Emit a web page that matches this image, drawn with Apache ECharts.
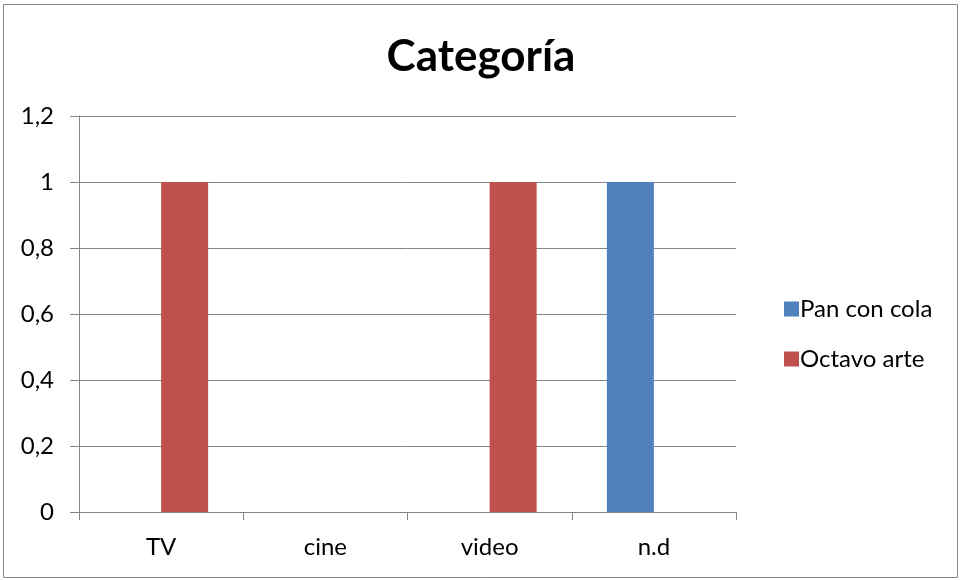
<!DOCTYPE html>
<html>
<head>
<meta charset="utf-8">
<script src="https://cdn.jsdelivr.net/npm/echarts@6/dist/echarts.min.js"></script>
<style>
  html, body { margin: 0; padding: 0; background: #fff; }
  #chart { width: 962px; height: 580px; }
</style>
</head>
<body>
<div id="chart"></div>
<script>
// Categories and series values
const categories = ['TV', 'cine', 'video', 'n.d'];
const panConCola = [0, 0, 0, 1];
const octavoArte = [1, 0, 1, 0];
const seriesNames = ['Pan con cola', 'Octavo arte'];
const titleText = 'Categoría';

const FONT = 'Lato, "Open Sans", sans-serif';
const AXIS_GREY = '#868686';

const chart = echarts.init(document.getElementById('chart'));
chart.setOption({
  backgroundColor: '#ffffff',
  animation: false,
  title: {
    text: titleText,
    left: 'center',
    top: 30,
    textStyle: { fontFamily: FONT, fontSize: 44, fontWeight: 'bold', color: '#000' }
  },
  graphic: [{
    type: 'rect',
    shape: { x: 3.5, y: 4.5, width: 954, height: 573 },
    style: { fill: 'none', stroke: AXIS_GREY, lineWidth: 1 },
    silent: true
  }],
  legend: {
    orient: 'vertical',
    left: 779,
    top: 292,
    icon: 'rect',
    itemWidth: 15,
    itemHeight: 15,
    itemGap: 26,
    data: seriesNames,
    textStyle: { fontFamily: FONT, fontSize: 24, color: '#000', padding: [0, 0, 0, -4] }
  },
  grid: { left: 79, right: 226, top: 116, bottom: 68 },
  xAxis: {
    type: 'category',
    data: categories,
    axisLine: { lineStyle: { color: AXIS_GREY, width: 1 } },
    axisTick: { show: true, length: 8, lineStyle: { color: AXIS_GREY } },
    axisLabel: { fontFamily: FONT, fontSize: 24, color: '#000', margin: 23 }
  },
  yAxis: {
    type: 'value',
    min: 0,
    max: 1.2,
    interval: 0.2,
    axisLine: { show: true, lineStyle: { color: AXIS_GREY, width: 1 } },
    axisTick: { show: true, length: 9, lineStyle: { color: AXIS_GREY } },
    splitLine: { show: true, lineStyle: { color: AXIS_GREY, width: 1 } },
    axisLabel: {
      fontFamily: FONT, fontSize: 24, color: '#000', margin: 25,
      formatter: v => String(Math.round(v * 10) / 10).replace('.', ',')
    }
  },
  series: [
    {
      name: seriesNames[0],
      type: 'bar',
      data: panConCola,
      barWidth: 47,
      barGap: '0%',
      itemStyle: { color: '#4F81BD' }
    },
    {
      name: seriesNames[1],
      type: 'bar',
      data: octavoArte,
      barWidth: 47,
      barGap: '0%',
      itemStyle: { color: '#C0504D' }
    }
  ]
});
</script>
</body>
</html>
